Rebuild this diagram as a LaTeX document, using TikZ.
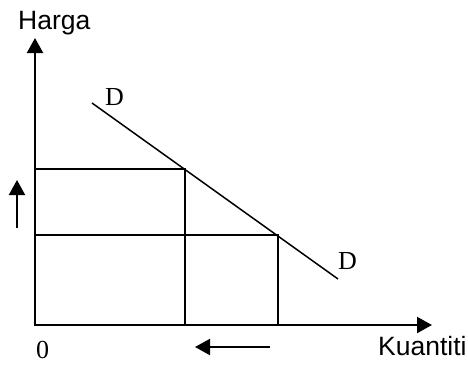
\documentclass[tikz,border=0pt]{standalone}
\usepackage{fontspec}
\setmainfont{Liberation Serif}
\newfontfamily\arialf{Liberation Sans}
\usetikzlibrary{arrows.meta}
\begin{document}
\begin{tikzpicture}[x=1pt,y=-1pt,
  axis/.style={line width=2.2pt,-{Triangle[length=15pt,width=16pt]}},
  thin line/.style={line width=1.5pt},
  shiftarrow/.style={line width=2pt,-{Triangle[length=15pt,width=16pt]}},
  sanslabel/.style={inner sep=0pt,anchor=base west,font=\arialf\fontsize{26.5}{31}\selectfont},
  seriflabel/.style={inner sep=0pt,anchor=base west,font=\fontsize{26}{31}\selectfont}]
\useasboundingbox (0,0) rectangle (468,367);
\coordinate (O) at (35,325);
\coordinate (ytip) at (35,38);
\coordinate (xtip) at (432,325);
\coordinate (dstart) at (92,103);
\coordinate (dend) at (338,279);
\coordinate (p1) at (185,169);
\coordinate (p2) at (278,235);
\coordinate (p1y) at (35,169);
\coordinate (p2y) at (35,235);
\coordinate (p1x) at (185,325);
\coordinate (p2x) at (278,325);
\coordinate (ua0) at (17,228);
\coordinate (ua1) at (17,180);
\coordinate (la0) at (270,347);
\coordinate (la1) at (195,347);
% guide lines
\draw[thin line] (p1y) -- (p1) -- (p1x);
\draw[thin line] (p2y) -- (p2) -- (p2x);
% demand curve
\draw[thin line] (dstart) -- (dend);
% axes
\draw[axis] ([yshift=1.1pt]O) -- (ytip);
\draw[axis] ([xshift=-1.1pt]O) -- (xtip);
% shift arrows
\draw[shiftarrow] (ua0) -- (ua1);
\draw[shiftarrow] (la0) -- (la1);
% labels
\node[sanslabel] (harga) at (18,29) {Harga};
\node[sanslabel] (kuantiti) at (378,355) {Kuantiti};
\node[seriflabel] (d1) at (105,105) {D};
\node[seriflabel] (d2) at (338,269) {D};
\node[seriflabel] (zero) at (36,358) {0};
\end{tikzpicture}
\end{document}
